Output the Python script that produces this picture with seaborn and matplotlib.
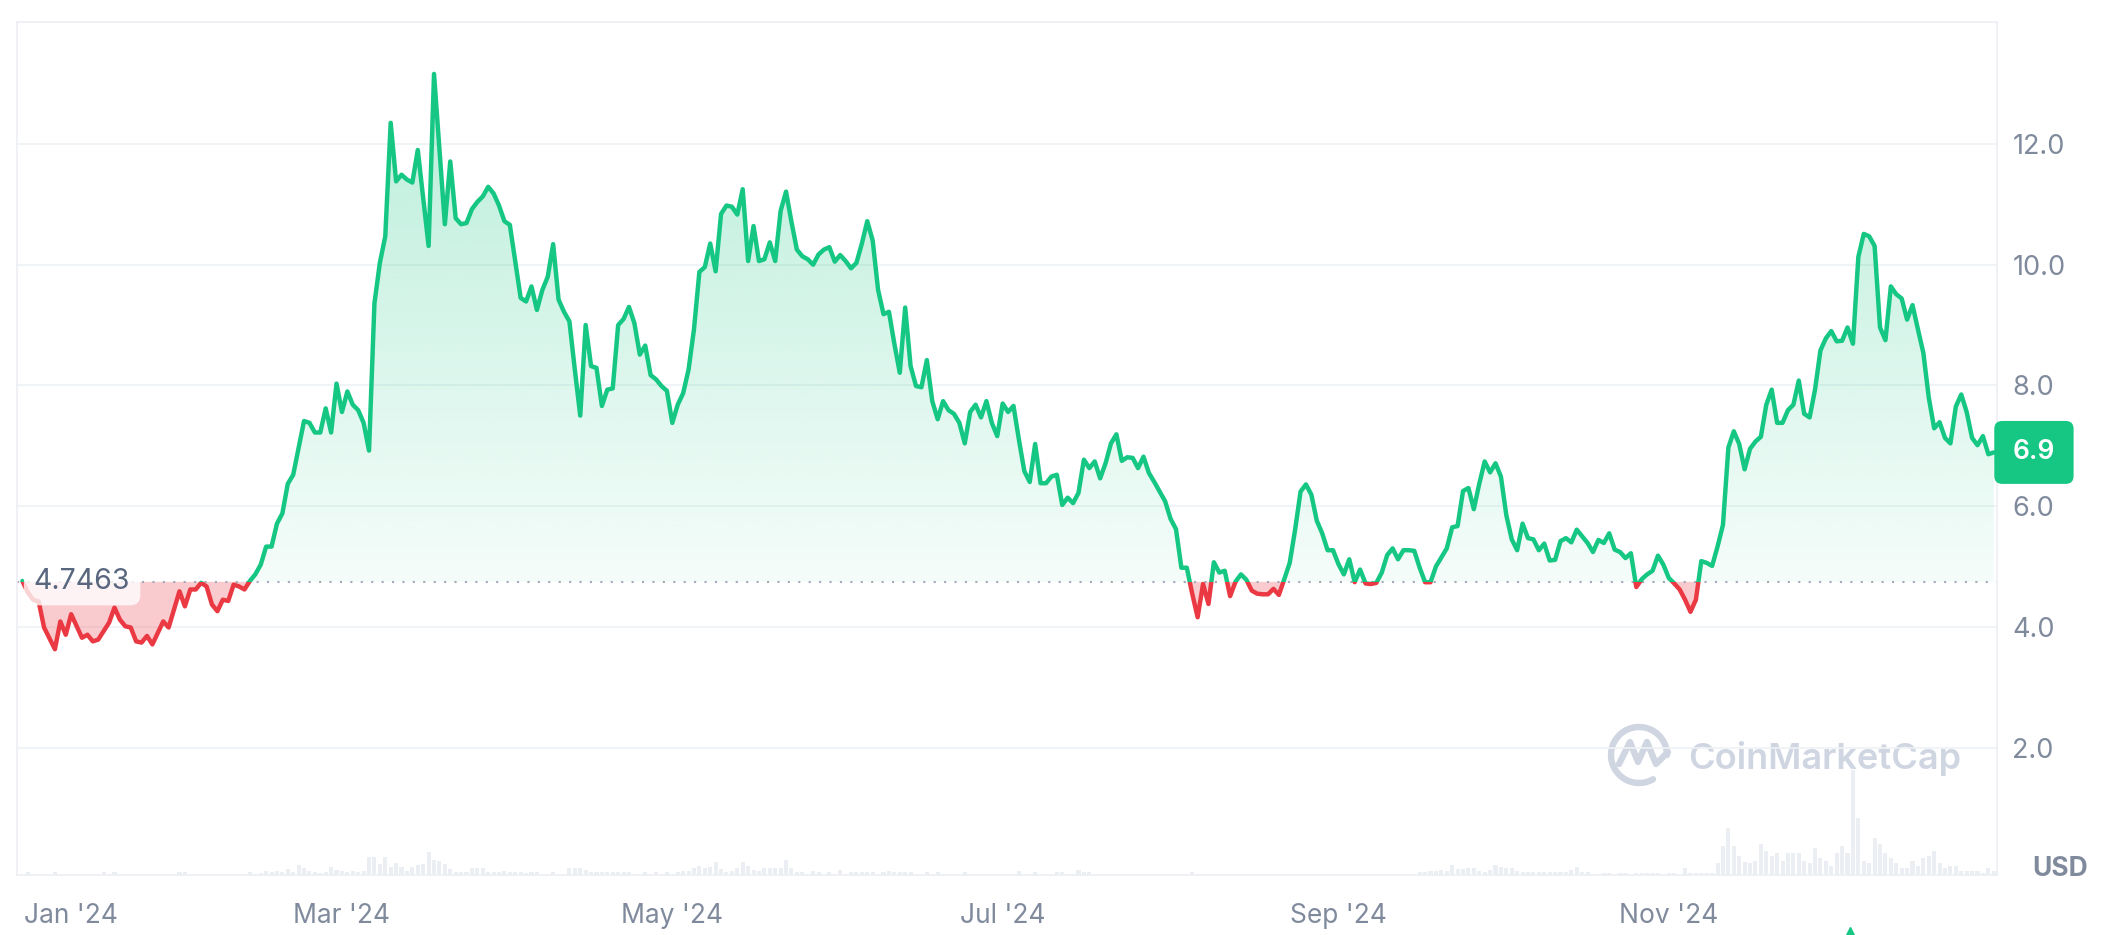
import numpy as np
import pandas as pd
import seaborn as sns
import matplotlib.pyplot as plt
import matplotlib.dates as mdates
import matplotlib.transforms as mtransforms
from matplotlib.patches import Rectangle, Arc
from matplotlib.path import Path
from matplotlib.colors import to_rgb

# daily price in USD, day = days after 2024-01-01
price_day = [
    1, 2, 3, 4, 5, 7, 8, 9, 10, 12, 13, 14, 15, 17, 18, 19, 20, 21, 22, 23, 24, 25, 27, 28, 30,
    31, 32, 33, 34, 35, 36, 37, 38, 39, 40, 41, 42, 43, 44, 45, 46, 47, 48, 49, 50, 51, 53, 54,
    55, 56, 57, 58, 59, 60,
    61, 62, 63, 64, 65, 66, 67, 68, 69, 70, 71, 72, 73, 74, 76, 77, 79, 80, 81, 82, 83, 84, 85,
    86, 87, 88, 89, 90, 91, 92, 93, 94, 95, 96, 97, 98, 99, 100, 101, 102, 103, 104, 105, 106,
    107, 108, 109, 110, 111, 112, 113, 114, 115, 116, 117, 118, 119, 120, 121,
    122, 123, 124, 125, 126, 127, 128, 129, 130, 131, 132, 133, 134, 135, 136, 137, 138, 139,
    140, 141, 142, 143, 144, 145, 146, 147, 148, 149, 150, 151, 152, 153, 154, 155, 156, 157,
    158, 159, 160, 161, 162, 163, 164, 165, 166, 167, 168, 169, 170, 171, 172, 173, 174, 175,
    176, 177, 178, 179, 180, 181, 182,
    183, 184, 185, 186, 187, 188, 189, 190, 191, 192, 193, 194, 195, 196, 197, 198, 199, 200,
    201, 202, 203, 204, 205, 206, 207, 208, 209, 210, 211, 212, 213, 214, 215, 216, 217, 218,
    219, 220, 221, 222, 223, 224, 225, 226, 227, 228, 229, 230, 231, 232, 233, 234, 235, 236,
    237, 238, 239, 240, 241, 242, 243,
    244, 245, 246, 247, 248, 249, 250, 251, 252, 253, 254, 255, 256, 257, 258, 259, 260, 261,
    262, 263, 264, 265, 266, 267, 268, 269, 270, 271, 272, 273, 274, 275, 276, 277, 278, 279,
    280, 281, 282, 283, 284, 285, 286, 287, 288, 289, 290, 291, 292, 293, 294, 295, 296, 297,
    298, 299, 300, 301, 302, 303, 304,
    305, 306, 307, 308, 309, 310, 311, 312, 313, 314, 315, 316, 317, 318, 319, 320, 321, 322,
    323, 324, 325, 326, 327, 328, 329, 330, 331, 332, 333, 334, 335, 336, 337, 338, 339, 340,
    341, 342, 343, 344, 345, 346, 347, 348, 349, 350, 351, 352, 353, 354, 355, 356, 357, 358,
    359, 360, 361, 362, 363, 364, 365,
]
price_usd = [
    4.76, 4.57, 4.45, 4.42, 3.99, 3.63, 4.09, 3.87, 4.21, 3.82, 3.87, 3.76, 3.79, 4.07, 4.32,
    4.12, 4.01, 3.99, 3.76, 3.74, 3.85, 3.71, 4.09, 3.99, 4.59, 4.34, 4.62, 4.62, 4.73, 4.67,
    4.37, 4.26, 4.45, 4.43, 4.70, 4.67, 4.62, 4.76, 4.87, 5.03, 5.33, 5.33, 5.71, 5.88, 6.37,
    6.52, 7.41, 7.38, 7.22, 7.22, 7.62, 7.22, 8.03, 7.56,
    7.90, 7.68, 7.59, 7.38, 6.92, 9.36, 10.03, 10.47, 12.35, 11.38, 11.49, 11.41, 11.36, 11.90,
    10.31, 13.16, 10.67, 11.71, 10.77, 10.67, 10.69, 10.92, 11.04, 11.13, 11.29, 11.18, 10.98,
    10.72, 10.66, 10.06, 9.45, 9.39, 9.64, 9.25, 9.58, 9.80, 10.34, 9.42, 9.22, 9.06, 8.26,
    7.50, 9.00, 8.32, 8.29, 7.66, 7.93, 7.95, 9.00, 9.10, 9.30, 9.03, 8.51, 8.66, 8.17, 8.10,
    7.99, 7.91, 7.38,
    7.68, 7.87, 8.26, 8.93, 9.88, 9.96, 10.35, 9.89, 10.84, 10.98, 10.96, 10.83, 11.25, 10.06,
    10.64, 10.06, 10.09, 10.37, 10.06, 10.89, 11.21, 10.71, 10.25, 10.14, 10.09, 10.00, 10.17,
    10.25, 10.29, 10.05, 10.16, 10.06, 9.94, 10.03, 10.35, 10.72, 10.40, 9.58, 9.18, 9.22,
    8.69, 8.21, 9.29, 8.32, 7.99, 7.97, 8.42, 7.74, 7.44, 7.74, 7.59, 7.53, 7.38, 7.04, 7.56,
    7.68, 7.47, 7.74, 7.38, 7.16, 7.70,
    7.56, 7.66, 7.10, 6.58, 6.40, 7.03, 6.38, 6.38, 6.49, 6.52, 6.02, 6.14, 6.05, 6.22, 6.77,
    6.63, 6.74, 6.46, 6.71, 7.04, 7.19, 6.75, 6.81, 6.80, 6.63, 6.82, 6.55, 6.40, 6.24, 6.08,
    5.79, 5.62, 4.98, 4.98, 4.55, 4.16, 4.71, 4.38, 5.07, 4.90, 4.93, 4.51, 4.75, 4.87, 4.78,
    4.60, 4.55, 4.54, 4.54, 4.63, 4.53, 4.79, 5.06, 5.61, 6.24, 6.36, 6.19, 5.76, 5.55, 5.27,
    5.27,
    5.04, 4.87, 5.12, 4.74, 4.95, 4.72, 4.71, 4.73, 4.90, 5.19, 5.30, 5.12, 5.27, 5.27, 5.26,
    4.98, 4.74, 4.74, 5.00, 5.15, 5.30, 5.65, 5.67, 6.25, 6.30, 5.95, 6.37, 6.74, 6.56, 6.71,
    6.49, 5.85, 5.45, 5.27, 5.71, 5.47, 5.45, 5.27, 5.38, 5.10, 5.11, 5.42, 5.47, 5.40, 5.61,
    5.50, 5.39, 5.24, 5.44, 5.39, 5.55, 5.28, 5.24, 5.14, 5.22, 4.66, 4.79, 4.87, 4.93, 5.18,
    5.03,
    4.81, 4.72, 4.62, 4.45, 4.25, 4.45, 5.09, 5.06, 5.01, 5.33, 5.69, 6.97, 7.24, 7.03, 6.61,
    6.95, 7.07, 7.15, 7.68, 7.93, 7.38, 7.38, 7.59, 7.68, 8.08, 7.53, 7.47, 7.93, 8.58, 8.78,
    8.90, 8.73, 8.74, 8.96, 8.69, 10.13, 10.51, 10.47, 10.31, 8.96, 8.75, 9.64, 9.51, 9.44,
    9.09, 9.33, 8.93, 8.54, 7.80, 7.29, 7.39, 7.13, 7.04, 7.65, 7.85, 7.56, 7.13, 7.01, 7.16,
    6.86, 6.89,
]

# daily volume (relative units)
vol_day = [
    2, 7, 16, 18, 30, 31, 43, 45, 46, 47, 48, 49, 50, 51, 52, 53, 54, 55, 56, 57, 58, 59, 60,
    61, 62, 63, 64, 65, 66, 67, 68, 69, 70, 71, 72, 73, 74, 75, 76, 77, 78, 79, 80, 81, 82, 83,
    84, 85, 86, 87, 88, 89, 90, 91, 92, 93, 94, 95, 96, 99, 102, 103, 104, 105, 106, 107, 108,
    109, 110, 111, 112, 113, 116, 118, 120, 122, 123, 124, 125, 126, 127, 128, 129, 130, 131,
    132, 133, 134, 135, 136, 137, 138, 139, 140, 141, 142, 143, 144, 145, 147, 148, 150, 152,
    154, 155, 156, 157, 158, 160, 161, 162, 163, 164, 165, 168, 170, 175, 185, 188, 192, 193,
    196, 197, 198, 217, 259, 260, 261, 262, 263, 264, 265, 266, 267, 268, 269, 270, 271, 272,
    273, 274, 275, 276, 277, 278, 279, 280, 281, 282, 283, 284, 285, 286, 287, 288, 289, 290,
    293, 294, 296, 297, 299, 300, 301, 302, 303, 305, 306, 308, 309, 310, 311, 312, 313, 314,
    315, 316, 317, 318, 319, 320, 321, 322, 323, 324, 325, 326, 327, 328, 329, 330, 331, 332,
    333, 334, 335, 336, 337, 338, 339, 340, 341, 342, 343, 344, 345, 346, 347, 348, 349, 350,
    351, 352, 353, 354, 355, 356, 357, 358, 359, 360, 361, 362, 363, 364, 365,
]
vol_val = [
    2.7, 2.7, 2.7, 2.7, 2.7, 2.7, 2.7, 2.0, 3.5, 2.5, 4.0, 3.0, 5.5, 2.5, 10.0, 6.7, 4.0, 2.5,
    2.0, 3.0, 7.7, 5.3, 4.0,
    3.0, 3.5, 2.5, 3.5, 17.7, 17.7, 11.0, 17.7, 8.0, 12.0, 7.7, 4.0, 7.7, 10.0, 11.0, 22.7,
    15.3, 14.3, 11.0, 6.0, 2.7, 3.0, 2.7, 6.7, 6.7, 6.7, 3.0, 2.5, 2.5, 3.5, 2.5, 2.5, 3.0, 2.0,
    2.5, 2.5, 2.7, 6.7, 6.7, 6.7, 5.0, 2.7, 2.7, 2.7, 2.7, 2.7, 2.7, 2.7, 2.7, 2.7, 2.7, 2.7,
    2.5, 4.0, 4.3, 7.0, 9.3, 6.7, 7.7, 12.7, 6.0, 2.7, 4.0, 6.7, 12.7, 8.7, 5.3, 4.0, 6.7, 6.7,
    7.0, 6.7, 15.3, 6.7, 3.0, 2.7, 3.5, 2.7, 2.5, 5.3, 2.7, 2.7, 2.7, 3.0, 2.7, 2.5, 4.3, 2.7,
    2.7, 2.7, 2.7, 2.7, 3.3, 2.7, 4.3, 2.7, 2.7, 2.7, 5.3, 2.7, 2.7, 2.7, 2.7, 2.7, 4.0, 4.0,
    5.3, 3.5, 10.0, 6.0, 6.0, 6.7, 6.7, 4.0, 2.7, 5.0, 10.0, 8.0, 6.7, 6.7, 4.0, 2.7, 2.7, 2.7,
    2.7, 2.7, 2.7, 2.7, 2.7, 3.3, 5.0, 7.7, 3.0, 2.7, 2.3, 2.3, 2.3, 2.3, 2.3, 2.3, 2.3, 2.3,
    2.3, 2.3, 2.3, 6.7, 2.3, 2.3, 2.3, 2.3, 2.3, 11.7, 29.0, 46.7, 29.0, 19.0, 13.3, 11.7, 14.0,
    31.0, 24.0, 19.0, 21.7, 14.0, 21.7, 21.7, 21.7, 14.0, 11.7, 26.7, 16.7, 14.0, 9.0, 21.7,
    29.0, 21.7, 105.0, 56.7, 14.0, 11.7, 36.7, 31.0, 21.7, 16.7, 11.7, 6.7, 6.7, 14.0, 9.0,
    16.7, 19.0, 24.0, 11.7, 6.7, 9.0, 9.0, 4.0, 4.0, 4.0, 4.0, 2.3, 6.7, 4.0,
]

base_price = 4.7463
last_price_label = "6.9"
y_ticks = [2, 4, 6, 8, 10, 12]
month_ticks = ["2024-01-01", "2024-03-01", "2024-05-01", "2024-07-01", "2024-09-01", "2024-11-01"]
month_labels = ["Jan '24", "Mar '24", "May '24", "Jul '24", "Sep '24", "Nov '24"]

GREEN = "#16C784"
RED = "#EA3943"
GREY = "#808A9D"
GRID = "#EFF2F5"

sns.set_theme(style="white")
plt.rcParams["font.family"] = ["Inter", "DejaVu Sans"]

t0 = pd.Timestamp("2024-01-01")
dates = t0 + pd.to_timedelta(price_day, unit="D")
price = np.array(price_usd)
xnum = mdates.date2num(dates)
vdates = t0 + pd.to_timedelta(vol_day, unit="D")

W, H = 2102, 935
fig = plt.figure(figsize=(W / 100, H / 100), dpi=100)
rect = [17 / W, 1 - 875 / H, (1997 - 17) / W, (875 - 22) / H]
ax = fig.add_axes(rect)
axv = ax.twinx()
ax.set_zorder(axv.get_zorder() + 1)
ax.patch.set_visible(False)

# volume bars
axv.bar(vdates, vol_val, width=0.75, color="#EBEEF2", linewidth=0)
axv.set_ylim(0, max(vol_val) * 8.1)
axv.set_yticks([])
for s in axv.spines.values():
    s.set_visible(False)

# price line, green above the baseline and red below
sns.lineplot(x=dates, y=price, ax=ax, color=GREEN, linewidth=3.2)
sns.lineplot(x=dates, y=price, ax=ax, color=RED, linewidth=3.2)
line_up, line_dn = ax.lines[-2], ax.lines[-1]
x_lo, x_hi = xnum[0] - 10, xnum[-1] + 10
clip_up = Rectangle((x_lo, base_price), x_hi - x_lo, 50, transform=ax.transData)
clip_dn = Rectangle((x_lo, base_price - 50), x_hi - x_lo, 50, transform=ax.transData)
for ln, cp in ((line_up, clip_up), (line_dn, clip_dn)):
    ln.set_clip_path(cp)
    ln.set_solid_joinstyle("round")
    ln.set_solid_capstyle("round")
    ln.set_zorder(4)

# gradient fill above baseline
up = ax.fill_between(xnum, base_price, price, where=price >= base_price, interpolate=True,
                     facecolor="none", edgecolor="none")
clip_path = Path.make_compound_path(*up.get_paths())
top = price.max()
n = 256
rgba = np.zeros((n, 1, 4))
rgba[..., :3] = to_rgb(GREEN)
rgba[:, 0, 3] = np.linspace(0.045, 0.30, n)
im = ax.imshow(rgba, extent=[xnum[0], xnum[-1], base_price, top], origin="lower",
               aspect="auto", zorder=1.5, interpolation="bilinear")
im.set_clip_path(clip_path, transform=ax.transData)

# pink fill below baseline
ax.fill_between(xnum, price, base_price, where=price < base_price, interpolate=True,
                color=RED, alpha=0.26, linewidth=0, zorder=1.6)

ax.axhline(base_price, color="#A3A9B8", linestyle=(0, (1, 4)), linewidth=1.5, zorder=2)

ax.set_xlim(t0, t0 + pd.Timedelta(days=365.6))
ax.set_ylim(-0.11, 14.02)
ax.set_xlabel("")
ax.set_ylabel("")

ax.yaxis.tick_right()
ax.set_yticks(y_ticks)
ax.set_yticklabels([f"{v:.1f}" for v in y_ticks])
ax.tick_params(axis="y", length=0, pad=11, labelsize=19.5, labelcolor=GREY)
ax.set_xticks(pd.to_datetime(month_ticks))
ax.set_xticklabels(month_labels)
ax.tick_params(axis="x", length=0, pad=20, labelsize=19, labelcolor=GREY)
first = ax.get_xticklabels()[0]
first.set_ha("left")
first.set_transform(first.get_transform() + mtransforms.ScaledTranslation(5 / 72, 0, fig.dpi_scale_trans))

ax.grid(axis="y", color=GRID, linewidth=1.2)
ax.grid(axis="x", visible=False)
ax.set_axisbelow(True)
for s in ax.spines.values():
    s.set_visible(True)
    s.set_color("#ECEFF3")
    s.set_linewidth(1.2)

blend = mtransforms.blended_transform_factory(ax.transAxes, ax.transData)
ax.text(0.0085, base_price, f"{base_price}", transform=blend, ha="left", va="center",
        fontsize=20.5, color="#58667E", zorder=6,
        bbox=dict(boxstyle="round,pad=0.35,rounding_size=0.35", facecolor="white",
                  edgecolor="none", alpha=0.78))
ax.annotate(last_price_label, xy=(1, price[-1]), xycoords=blend, xytext=(26.6, 0),
            textcoords="offset points", ha="center", va="center", fontsize=19,
            color="white", fontweight="semibold", zorder=7, annotation_clip=False,
            bbox=dict(boxstyle="round,pad=0.7,rounding_size=0.3", facecolor=GREEN,
                      edgecolor="none"))

fig.text(2060 / W, 1 - 869 / H, "USD", ha="center", va="center", fontsize=19,
         fontweight="bold", color=GREY)

# watermark
ov = fig.add_axes([0, 0, 1, 1], zorder=axv.get_zorder() + 0.5)
ov.set_xlim(0, W)
ov.set_ylim(H, 0)
ov.axis("off")
wm = "#CFD6E2"
ov.add_patch(Arc((1639, 755), 56, 56, theta1=60, theta2=360, color=wm, linewidth=4.6,
                 capstyle="round"))
ov.plot([1619, 1630, 1638, 1647, 1656, 1668], [764, 742, 762, 742, 764, 752], color=wm,
        linewidth=4.6, solid_joinstyle="round", solid_capstyle="round")
ov.text(1688, 758, "CoinMarketCap", ha="left", va="center", fontsize=26,
        fontweight="semibold", color=wm)
ov.plot([1850], [931], marker="^", markersize=6, color=GREEN, linestyle="none", clip_on=False)

fig.savefig("out.png", dpi=100)
